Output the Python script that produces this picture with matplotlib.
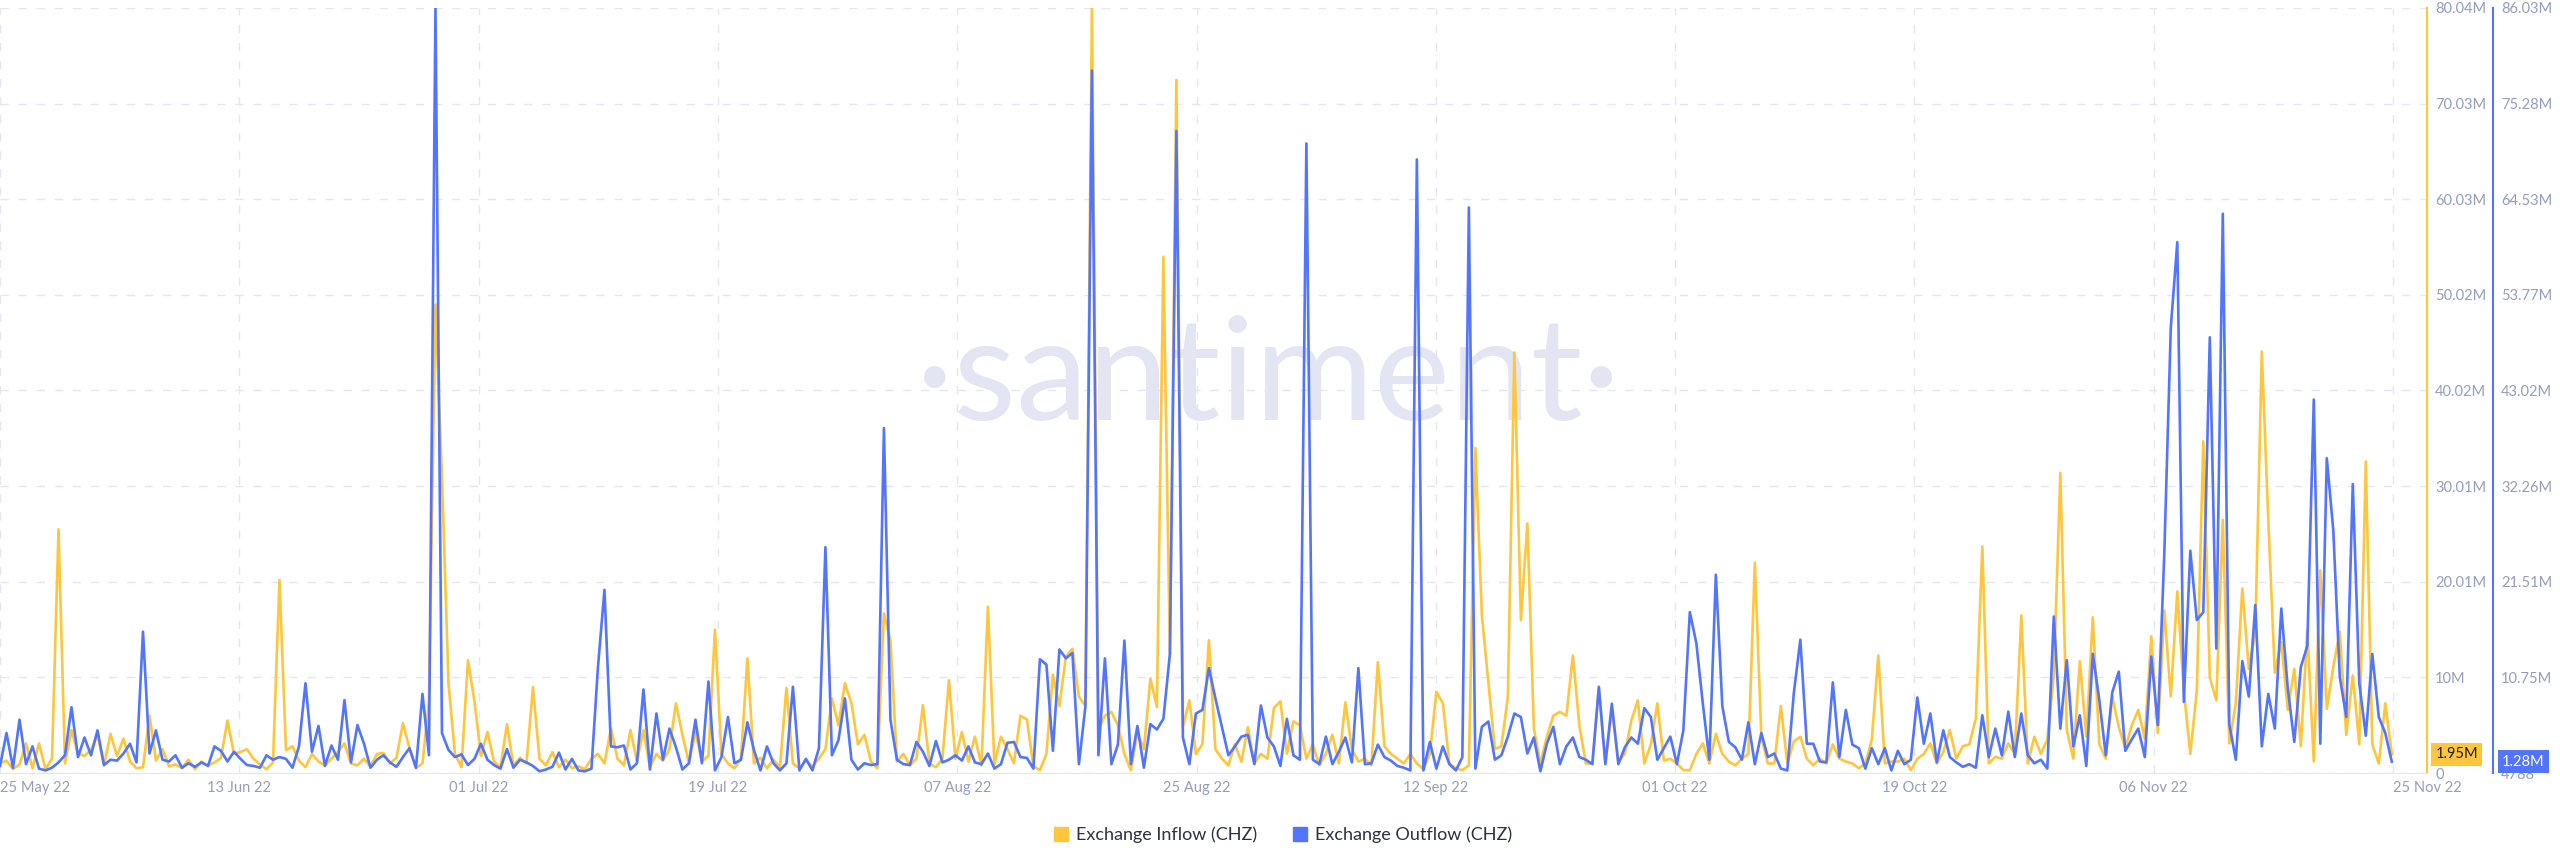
import numpy as np
import pandas as pd
import matplotlib
matplotlib.use("Agg")
import matplotlib.pyplot as plt
from matplotlib.lines import Line2D

# exchange flows of CHZ, 12h steps from 25 May 22, in millions
inflow = [
    1.0, 1.3, 0.4, 0.9, 3.1, 0.5, 3.1, 0.4, 1.5, 25.5,
    1.0, 4.5, 2.0, 1.8, 2.4, 4.0, 0.8, 4.1, 1.8, 3.6,
    1.2, 0.5, 0.6, 6.0, 1.3, 2.5, 0.7, 0.9, 0.5, 1.4,
    0.4, 1.2, 0.8, 1.1, 1.6, 5.5, 2.0, 2.2, 2.5, 1.5,
    0.9, 0.4, 1.1, 20.2, 2.4, 2.8,
    1.3, 0.6, 2.0, 1.2, 0.8, 1.5, 2.2, 3.1, 1.0, 0.8,
    1.5, 0.7, 2.0, 2.1, 1.0, 1.6, 5.2, 2.6, 0.5, 1.0,
    7.6, 49.0, 31.0, 9.4, 2.0, 0.6, 11.8, 7.5, 1.8, 4.3,
    1.2, 0.6, 5.1, 0.8, 1.6, 1.0, 9.0, 1.5, 0.8, 2.2,
    0.6, 1.4, 0.5, 0.7, 0.4, 1.5,
    2.0, 1.0, 4.7, 1.5, 0.8, 4.5, 1.2, 4.5, 0.6, 2.0,
    1.3, 2.5, 7.3, 4.0, 1.0, 4.3, 1.2, 1.8, 15.0, 2.0,
    1.0, 0.5, 1.5, 12.0, 1.0, 1.6, 0.5, 1.4, 0.6, 8.9,
    1.0, 0.5, 1.3, 0.7, 1.5, 2.5, 7.8, 5.0, 9.4, 7.3,
    3.0, 4.0, 1.2, 0.5, 16.7, 13.9,
    1.2, 2.0, 0.8, 1.5, 7.1, 1.0, 0.6, 1.5, 9.7, 1.5,
    4.3, 1.2, 3.8, 0.8, 17.4, 0.9, 3.8, 2.5, 1.0, 6.0,
    5.6, 0.7, 0.3, 2.0, 10.3, 7.0, 12.2, 13.0, 8.0, 7.0,
    80.04, 4.5, 6.0, 6.4, 5.0, 2.0, 0.3, 4.2, 2.5, 9.9,
    6.9, 54.0, 12.5, 72.5, 4.8, 7.6,
    2.0, 3.0, 13.9, 2.5, 1.5, 0.8, 3.0, 1.2, 4.8, 1.0,
    2.0, 1.5, 6.8, 7.5, 2.0, 5.4, 5.0, 1.5, 3.0, 0.8,
    2.0, 4.0, 1.0, 7.4, 2.5, 1.2, 1.5, 0.8, 11.6, 2.8,
    2.0, 1.5, 1.0, 2.0, 1.0, 0.4, 2.0, 8.5, 7.3, 1.0,
    0.5, 0.3, 0.8, 34.0, 16.5, 9.5,
    2.5, 2.8, 8.0, 44.0, 16.0, 26.1, 4.7, 1.0, 3.8, 6.0,
    6.4, 6.0, 12.3, 5.0, 1.0, 1.0, 8.9, 1.0, 6.6, 1.2,
    2.0, 5.5, 7.6, 1.0, 3.0, 7.3, 1.3, 1.5, 1.0, 0.3,
    0.3, 2.0, 3.1, 1.0, 4.1, 2.0, 1.2, 0.8, 1.5, 2.0,
    22.0, 3.8, 1.0, 1.0, 7.0, 1.0,
    3.3, 3.8, 1.5, 0.8, 1.5, 1.0, 3.0, 1.5, 1.2, 1.0,
    0.5, 1.0, 3.5, 12.3, 1.0, 1.2, 1.2, 1.5, 0.3, 1.5,
    2.0, 3.1, 1.0, 2.2, 4.5, 1.5, 2.8, 3.0, 5.7, 23.7,
    1.0, 1.7, 1.5, 3.1, 2.0, 16.5, 1.0, 3.8, 2.0, 3.5,
    10.2, 31.4, 4.5, 1.5, 11.7, 3.8,
    16.3, 3.0, 1.5, 8.0, 4.8, 2.6, 5.0, 6.6, 3.6, 14.3,
    4.2, 17.0, 8.0, 19.0, 8.6, 2.0, 8.6, 34.7, 10.0, 7.6,
    26.5, 3.1, 7.3, 19.3, 10.9, 14.6, 44.1, 26.4, 10.5, 13.7,
    6.6, 10.9, 2.8, 14.9, 1.2, 21.2, 6.7, 11.1, 14.8, 4.0,
    10.2, 3.0, 32.6, 3.0, 1.0, 7.3, 1.95,
]

outflow = [
    0.8, 4.5, 0.6, 6.0, 1.0, 3.0, 0.5, 0.3, 0.6, 1.2,
    2.0, 7.4, 1.8, 4.0, 2.0, 4.8, 0.9, 1.5, 1.4, 2.2,
    3.3, 1.2, 15.9, 2.2, 4.8, 1.5, 1.3, 2.0, 0.6, 1.1,
    0.7, 1.2, 0.8, 3.0, 2.5, 1.3, 2.4, 1.6, 0.9, 0.8,
    0.6, 2.0, 1.5, 1.8, 1.6, 0.6,
    3.0, 10.1, 2.4, 5.3, 0.8, 3.1, 1.5, 8.2, 1.2, 5.4,
    3.3, 0.6, 1.5, 2.0, 1.2, 0.7, 1.8, 2.8, 0.6, 8.9,
    2.0, 86.03, 4.5, 2.6, 1.8, 2.1, 0.9, 1.6, 3.3, 1.5,
    0.9, 0.5, 2.7, 0.6, 1.5, 1.2, 0.8, 0.2, 0.4, 0.7,
    2.3, 0.4, 1.6, 0.3, 0.2, 0.5,
    11.9, 20.6, 3.0, 2.9, 3.1, 0.4, 1.1, 9.4, 0.4, 6.7,
    1.5, 5.0, 2.9, 0.4, 1.1, 6.0, 1.1, 10.3, 0.3, 1.8,
    6.3, 1.1, 1.5, 5.7, 2.6, 0.3, 3.0, 1.1, 0.3, 1.1,
    9.7, 0.3, 1.6, 0.3, 2.8, 25.4, 2.0, 3.7, 8.4, 1.5,
    0.4, 1.1, 0.9, 1.0, 38.8, 6.0,
    1.5, 1.0, 0.9, 3.5, 2.4, 0.8, 3.6, 1.2, 1.5, 2.0,
    1.4, 3.0, 1.2, 1.0, 2.2, 0.5, 1.0, 3.4, 3.5, 1.8,
    1.7, 0.5, 12.8, 12.2, 2.5, 13.9, 12.9, 13.5, 1.0, 7.5,
    79.0, 2.0, 12.9, 1.0, 3.2, 14.9, 1.0, 5.3, 0.6, 5.5,
    4.9, 6.1, 13.4, 72.2, 4.0, 1.0,
    6.7, 7.1, 11.8, 8.4, 5.2, 2.0, 3.0, 4.1, 4.3, 1.0,
    7.6, 4.0, 3.0, 0.8, 6.1, 2.0, 1.5, 70.8, 1.5, 1.0,
    4.1, 1.0, 2.4, 4.0, 1.2, 11.8, 1.0, 1.1, 3.2, 1.8,
    1.4, 0.8, 0.6, 0.3, 69.0, 0.3, 3.5, 0.5, 3.0, 1.0,
    0.3, 1.8, 63.6, 0.5, 5.2, 5.8,
    1.5, 2.0, 4.1, 6.7, 6.3, 2.2, 4.0, 0.2, 3.3, 5.2,
    1.0, 3.0, 4.0, 1.8, 1.5, 1.0, 9.7, 1.0, 7.8, 1.0,
    2.9, 4.0, 3.3, 7.3, 6.3, 1.5, 2.8, 4.1, 1.0, 4.8,
    18.1, 14.6, 7.8, 1.5, 22.3, 7.5, 3.5, 2.9, 1.5, 5.7,
    1.0, 4.5, 1.8, 2.2, 0.5, 0.3,
    9.0, 15.0, 3.3, 3.3, 1.3, 1.2, 10.2, 1.8, 7.1, 3.2,
    2.8, 0.5, 2.8, 1.0, 2.8, 0.3, 2.5, 1.0, 1.5, 8.5,
    3.3, 6.7, 1.2, 4.8, 1.8, 1.2, 0.7, 1.0, 0.6, 6.5,
    1.8, 5.0, 2.0, 6.9, 1.8, 6.7, 2.0, 1.1, 1.5, 0.5,
    17.6, 5.0, 12.7, 3.0, 6.5, 0.8,
    13.4, 8.2, 2.0, 9.1, 11.4, 2.5, 3.8, 5.0, 1.8, 13.1,
    5.4, 24.7, 50.1, 59.7, 8.0, 25.0, 17.2, 18.1, 49.0, 14.0,
    62.9, 5.5, 1.5, 12.6, 8.6, 18.9, 3.0, 8.9, 5.0, 18.5,
    9.5, 3.5, 11.9, 14.3, 42.0, 3.3, 35.4, 27.3, 10.8, 6.3,
    32.5, 10.1, 4.2, 13.4, 6.3, 4.5, 1.28,
]

date_labels = ['25 May 22', '13 Jun 22', '01 Jul 22', '19 Jul 22', '07 Aug 22', '25 Aug 22',
               '12 Sep 22', '01 Oct 22', '19 Oct 22', '06 Nov 22', '25 Nov 22']
in_labels = ['0', '10M', '20.01M', '30.01M', '40.02M', '50.02M', '60.03M', '70.03M', '80.04M']
out_labels = ['4788', '10.75M', '21.51M', '32.26M', '43.02M', '53.77M', '64.53M', '75.28M', '86.03M']

YELLOW = '#ffc53d'
BLUE = '#5275ff'
GRID = '#e4e7f1'
TXT = '#959cbd'

start = pd.Timestamp('2022-05-25')
x_in = start + pd.to_timedelta(np.arange(len(inflow)) * 12, unit='h')
x_out = start + pd.to_timedelta(np.arange(len(outflow)) * 12, unit='h')
tick_dates = [start + pd.Timedelta(days=18.41 * i) for i in range(len(date_labels))]

plt.rcParams['font.family'] = ['Lato', 'DejaVu Sans']

fig = plt.figure(figsize=(25.6, 8.67), dpi=100)
ax = fig.add_axes([0, 0.1084, 0.948, 0.8824])
ax2 = ax.twinx()

ax.plot(x_in, inflow, color=YELLOW, lw=1.9, zorder=3)
ax2.plot(x_out, outflow, color=BLUE, lw=1.9, zorder=3)

ax.set_xlim(start, start + pd.Timedelta(days=186.7))
ax.set_ylim(0, max(inflow))
ax2.set_ylim(0.004788, max(outflow))

ax.set_yticks(np.linspace(0, max(inflow), len(in_labels)))
ax.set_yticklabels(in_labels)
ax2.set_yticks(np.linspace(0.004788, max(outflow), len(out_labels)))
ax2.set_yticklabels(out_labels)

ax.set_xticks(tick_dates)
ax.set_xticklabels(date_labels)
xl = ax.get_xticklabels()
xl[0].set_ha('left')
xl[-1].set_ha('left')

ax.yaxis.tick_right()
ax.tick_params(axis='y', length=0, pad=6, labelsize=10.5, labelcolor=TXT)
ax.tick_params(axis='x', length=0, pad=6, labelsize=10.5, labelcolor=TXT)
ax2.tick_params(axis='y', length=0, pad=6, labelsize=10.5, labelcolor=TXT)

ax.grid(True, color=GRID, linestyle=(0, (6, 7)), linewidth=1)
ax.set_axisbelow(True)

for s in ['left', 'top']:
    ax.spines[s].set_visible(False)
ax.spines['right'].set_color(YELLOW)
ax.spines['right'].set_linewidth(1.5)
ax.spines['bottom'].set_color(GRID)
for s in ['left', 'top', 'bottom']:
    ax2.spines[s].set_visible(False)
ax2.spines['right'].set_position(('outward', 47.5))
ax2.spines['right'].set_color(BLUE)
ax2.spines['right'].set_linewidth(1.5)

# last value badges
ax.text(1.0035, inflow[-1], f'{inflow[-1]:.2f}M', transform=ax.get_yaxis_transform(),
        ha='left', va='center', fontsize=10.5, color='#1b1d26', zorder=6,
        bbox=dict(boxstyle='square,pad=0.3', fc=YELLOW, ec='none'))
ax2.text(1.031, outflow[-1], f'{outflow[-1]:.2f}M', transform=ax2.get_yaxis_transform(),
         ha='left', va='center', fontsize=10.5, color='white', zorder=6,
         bbox=dict(boxstyle='square,pad=0.3', fc=BLUE, ec='none'))

# watermark
ax.text(0.5225, 0.515, '·santiment·', transform=ax.transAxes, ha='center', va='center',
        fontsize=104, fontweight='normal', color='#e3e6f2', zorder=1)

handles = [Line2D([], [], marker='s', color=YELLOW, linestyle='none', markersize=10),
           Line2D([], [], marker='s', color=BLUE, linestyle='none', markersize=10)]
fig.legend(handles, ['Exchange Inflow (CHZ)', 'Exchange Outflow (CHZ)'], loc='center',
           bbox_to_anchor=(1283 / 2560, 1 - 835 / 867), ncol=2, frameon=False,
           fontsize=13, handlelength=0.8, handletextpad=0.4, columnspacing=2.0,
           labelcolor='#2b3044')

fig.savefig('out.png', dpi=100, facecolor='white')
